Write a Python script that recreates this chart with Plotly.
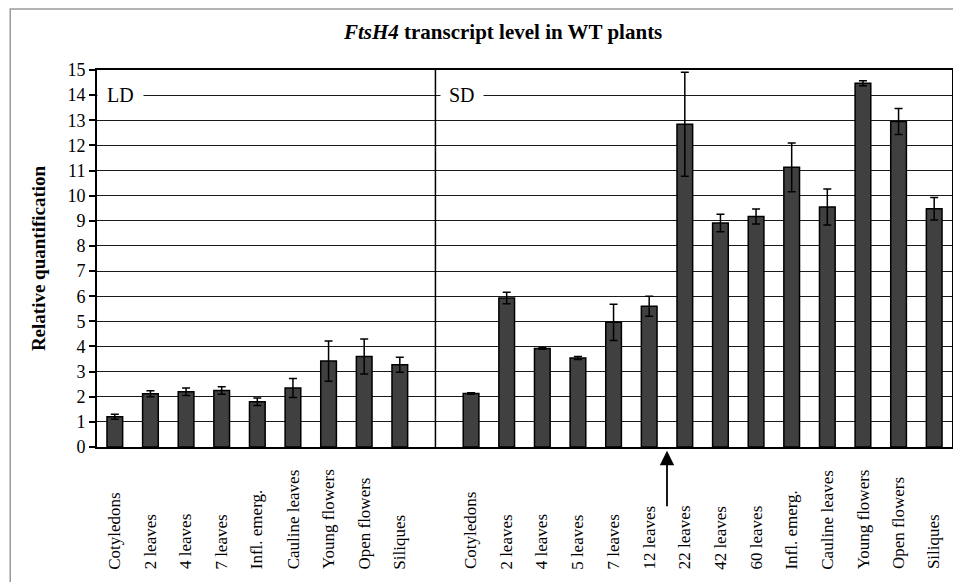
import plotly.graph_objects as go

# ---- data ----
ld_labels = ["Cotyledons", "2 leaves", "4 leaves", "7 leaves", "Infl. emerg.",
             "Cauline leaves", "Young flowers", "Open flowers", "Siliques"]
ld_values = [1.2, 2.12, 2.2, 2.25, 1.8, 2.35, 3.42, 3.6, 3.27]
ld_errors = [0.1, 0.12, 0.15, 0.15, 0.15, 0.38, 0.8, 0.7, 0.3]

sd_labels = ["Cotyledons", "2 leaves", "4 leaves", "5 leaves", "7 leaves", "12 leaves",
             "22 leaves", "42 leaves", "60 leaves", "Infl. emerg.", "Cauline leaves",
             "Young flowers", "Open flowers", "Siliques"]
sd_values = [2.13, 5.93, 3.92, 3.54, 4.96, 5.6, 12.84, 8.91, 9.17, 11.13, 9.55, 14.47, 12.95, 9.48]
sd_errors = [0.03, 0.23, 0.03, 0.06, 0.72, 0.4, 2.07, 0.35, 0.3, 0.97, 0.72, 0.1, 0.52, 0.45]

y_ticks = list(range(0, 16))

FONT = "Liberation Serif"

# slot positions: LD bars, one empty slot (divider), SD bars
ld_x = list(range(len(ld_labels)))
gap = len(ld_labels)
sd_x = [gap + 1 + i for i in range(len(sd_labels))]

xs = ld_x + sd_x
vals = ld_values + sd_values
errs = ld_errors + sd_errors
labels = ld_labels + sd_labels

fig = go.Figure()
fig.add_trace(go.Bar(
    x=xs, y=vals, width=0.44,
    marker=dict(color="#404040", line=dict(color="#000000", width=1.5)),
    error_y=dict(type="data", array=errs, visible=True, color="#000000",
                 thickness=1.5, width=4),
    showlegend=False,
))

annotations = []
# rotated category labels, bottom aligned
for xv, lab in zip(xs, labels):
    annotations.append(dict(
        x=xv, xref="x", y=-0.33, yref="paper", text=lab, showarrow=False,
        textangle=-90, xanchor="center", yanchor="bottom",
        font=dict(family=FONT, size=17, color="#000000"),
    ))

# LD / SD labels covering grid line at 14
annotations.append(dict(x=-0.5, xref="x", y=14, yref="y", text="LD", showarrow=False,
                        xanchor="left", yanchor="middle", bgcolor="#ffffff", borderpad=9,
                        font=dict(family=FONT, size=20, color="#000000")))
annotations.append(dict(x=gap + 0.75, xref="x", y=14, yref="y", text="SD", showarrow=False,
                        xanchor="center", yanchor="middle", bgcolor="#ffffff", borderpad=8,
                        font=dict(family=FONT, size=20, color="#000000")))

# arrow between 12 leaves and 22 leaves
annotations.append(dict(x=sd_x[5] + 0.5, xref="x", y=-0.01, yref="paper", text="",
                        showarrow=True, ax=0, ay=57, arrowhead=2, arrowsize=1.6,
                        arrowwidth=1.8, arrowcolor="#000000", standoff=0))

shapes = [
    # divider between LD and SD
    dict(type="line", xref="x", yref="y", x0=gap, x1=gap, y0=0, y1=15,
         line=dict(color="#000000", width=1.5)),
    # outer frame
    dict(type="rect", xref="paper", yref="paper", x0=-0.1015, x1=1.2, y0=-0.7, y1=1.162,
         line=dict(color="#9a9a9a", width=1.5), fillcolor="rgba(0,0,0,0)", layer="below"),
]

fig.update_layout(
    width=953, height=574,
    margin=dict(l=89, r=7, t=62, b=135),
    paper_bgcolor="#ffffff", plot_bgcolor="#ffffff",
    font=dict(family=FONT, color="#000000"),
    title=dict(text="<b><i>FtsH4</i> transcript level in WT plants</b>",
               x=0.475, xref="paper", xanchor="center", y=1 - 24 / 574, yref="container",
               yanchor="middle", font=dict(family=FONT, size=21, color="#000000")),
    xaxis=dict(range=[-0.5, len(xs) + 0.5], showticklabels=False, showgrid=False,
               zeroline=False, showline=True, linecolor="#000000", linewidth=2,
               mirror=True, ticks=""),
    yaxis=dict(range=[0, 15], tickvals=y_ticks, ticktext=[str(v) for v in y_ticks],
               showgrid=True, gridcolor="#1a1a1a", gridwidth=1.2, zeroline=False,
               showline=True, linecolor="#000000", linewidth=2, mirror=True,
               ticks="outside", ticklen=6, tickcolor="#000000", tickwidth=1.5,
               tickfont=dict(family=FONT, size=18, color="#000000"),
               title=dict(text="<b>Relative quantification</b>", standoff=17,
                          font=dict(family=FONT, size=19, color="#000000"))),
    annotations=annotations,
    shapes=shapes,
    bargap=0.5,
)

fig.write_html("out.html")
